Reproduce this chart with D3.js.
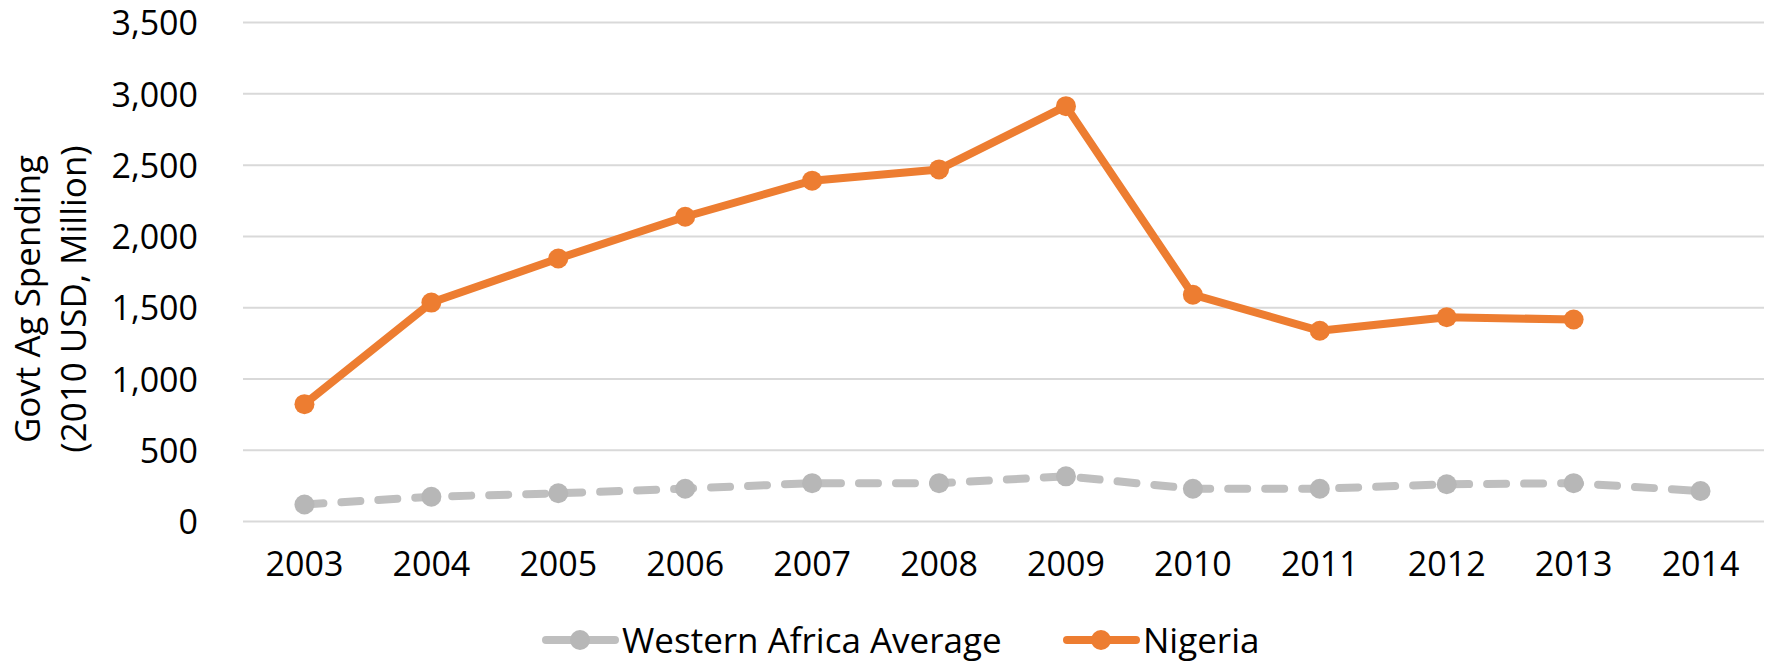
<!DOCTYPE html>
<html>
<head>
<meta charset="utf-8">
<script src="https://cdn.jsdelivr.net/npm/d3@7"></script>
<style>
    body { margin: 0; background: #fff; }
    text { font-family: 'Open Sans', sans-serif; fill: #000; }
</style>
</head>
<body>
<div id="root"></div>
<script>
const width = 1770;
const height = 666;

// data
const years = ['2003', '2004', '2005', '2006', '2007', '2008', '2009', '2010', '2011', '2012', '2013', '2014'];
const westernAfrica = [119, 174, 198, 230, 269, 269, 317, 230, 230, 261, 269, 214];
const nigeria = [823, 1536, 1845, 2138, 2391, 2470, 2914, 1591, 1338, 1433, 1417, null];
const yTicks = [0, 500, 1000, 1500, 2000, 2500, 3000, 3500];
const seriesNames = ['Western Africa Average', 'Nigeria'];

const margin = {top: 22.6, right: 6, bottom: 144.5, left: 241};

const svg = d3.select('#root')
    .append('svg')
    .attr('width', width)
    .attr('height', height);

const x = d3.scaleBand()
    .domain(years)
    .range([margin.left, width - margin.right]);

const y = d3.scaleLinear()
    .domain([0, 3500])
    .range([height - margin.bottom, margin.top]);

// gridlines
svg.append('g')
    .selectAll('line')
    .data(yTicks)
    .join('line')
    .attr('x1', margin.left + 2)
    .attr('x2', width - margin.right)
    .attr('y1', d => y(d))
    .attr('y2', d => y(d))
    .attr('stroke', '#d9d9d9')
    .attr('stroke-width', 2);

// y tick labels
const yAxis = svg.append('g')
    .attr('transform', `translate(${margin.left - 43},0)`)
    .call(d3.axisLeft(y).tickValues(yTicks).tickSize(0).tickPadding(0).tickFormat(d3.format(',')));
yAxis.select('.domain').remove();
yAxis.selectAll('text')
    .attr('font-size', 34)
    .attr('font-family', "'Open Sans', sans-serif")
    .attr('fill', '#000')
    .attr('dy', '0.36em');

// x tick labels
const xAxis = svg.append('g')
    .attr('transform', `translate(0,${height - margin.bottom + 29})`)
    .call(d3.axisBottom(x).tickSize(0).tickPadding(0));
xAxis.select('.domain').remove();
xAxis.selectAll('text')
    .attr('font-size', 34)
    .attr('font-family', "'Open Sans', sans-serif")
    .attr('fill', '#000')
    .attr('dy', '0.74em');

// y axis title
const title = svg.append('text')
    .attr('transform', `translate(40,299) rotate(-90)`)
    .attr('text-anchor', 'middle')
    .attr('font-size', 35);
title.append('tspan').attr('x', 0).attr('dy', 0).text('Govt Ag Spending');
title.append('tspan').attr('x', 0).attr('dy', 46).text('(2010 USD, Million)');

const cx = (d, i) => x(years[i]) + x.bandwidth() / 2;

const line = d3.line()
    .defined(d => d != null)
    .x(cx)
    .y(d => y(d));

// Western Africa Average
svg.append('path')
    .datum(westernAfrica)
    .attr('d', line)
    .attr('fill', 'none')
    .attr('stroke', '#bfbfbf')
    .attr('stroke-width', 8)
    .attr('stroke-linecap', 'round')
    .attr('stroke-dasharray', '19 18');

svg.append('g')
    .selectAll('circle')
    .data(westernAfrica)
    .join('circle')
    .attr('cx', cx)
    .attr('cy', d => y(d))
    .attr('r', 10)
    .attr('fill', '#b7b7b7');

// Nigeria
svg.append('path')
    .datum(nigeria)
    .attr('d', line)
    .attr('fill', 'none')
    .attr('stroke', '#ed7d31')
    .attr('stroke-width', 8)
    .attr('stroke-linejoin', 'round');

svg.append('g')
    .selectAll('circle')
    .data(nigeria.map((v, i) => ({v, i})).filter(d => d.v != null))
    .join('circle')
    .attr('cx', d => cx(d.v, d.i))
    .attr('cy', d => y(d.v))
    .attr('r', 10)
    .attr('fill', '#ed7d31');

// legend
const legendY = 640;
const legendItems = [
    {name: seriesNames[0], x: 542, color: '#bfbfbf', dot: '#b7b7b7'},
    {name: seriesNames[1], x: 1063, color: '#ed7d31', dot: '#ed7d31'}
];
const lg = svg.append('g')
    .selectAll('g')
    .data(legendItems)
    .join('g')
    .attr('transform', d => `translate(${d.x},${legendY})`);

lg.append('line')
    .attr('x1', 4)
    .attr('x2', 73)
    .attr('stroke', d => d.color)
    .attr('stroke-width', 8)
    .attr('stroke-linecap', 'round');
lg.append('circle')
    .attr('cx', 38)
    .attr('r', 10)
    .attr('fill', d => d.dot);
lg.append('text')
    .attr('x', 80)
    .attr('dy', '0.36em')
    .attr('font-size', 35)
    .text(d => d.name);
</script>
</body>
</html>
